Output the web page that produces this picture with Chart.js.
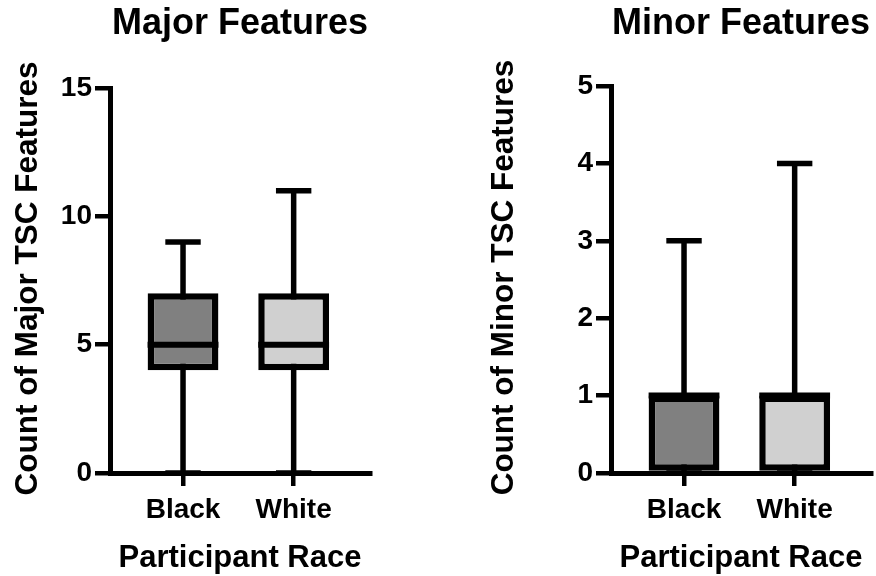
<!DOCTYPE html>
<html>
<head>
<meta charset="utf-8">
<script src="https://cdn.jsdelivr.net/npm/chart.js@4.4.1/dist/chart.umd.min.js"></script>
<style>
  html, body { margin: 0; padding: 0; background: #fff; }
  #wrap { position: relative; width: 876px; height: 576px; }
  canvas { position: absolute; top: 0; }
  #major { left: 0; }
  #minor { left: 438px; }
</style>
</head>
<body>
<div id="wrap">
  <canvas id="major" width="438" height="576"></canvas>
  <canvas id="minor" width="438" height="576"></canvas>
</div>
<script>
const races = ['Black', 'White'];
const boxColors = ['#808080', '#d0d0d0'];

// major features box plot
const majorMin = [0, 0];
const majorQ1 = [4, 4];
const majorMedian = [5, 5];
const majorQ3 = [7, 7];
const majorMax = [9, 11];
const majorTicks = [0, 5, 10, 15];

// minor features box plot
const minorMin = [0, 0];
const minorQ1 = [0, 0];
const minorMedian = [1, 1];
const minorQ3 = [1, 1];
const minorMax = [3, 4];
const minorTicks = [0, 1, 2, 3, 4, 5];

const FONT = '"Liberation Sans", Arial, Helvetica, sans-serif';

// whiskers under the boxes, medians on top
const boxParts = {
  id: 'boxParts',
  beforeDatasetsDraw(chart) {
    const ds = chart.data.datasets[0];
    const meta = chart.getDatasetMeta(0);
    const y = chart.scales.y;
    const ctx = chart.ctx;
    ctx.save();
    ctx.strokeStyle = '#000';
    ctx.lineWidth = 5.5;
    meta.data.forEach((bar, i) => {
      const p = bar.getProps(['x', 'width'], true);
      const cap = p.width / 4;
      const yLo = y.getPixelForValue(ds.lo[i]);
      const yHi = y.getPixelForValue(ds.hi[i]);
      ctx.beginPath();
      ctx.moveTo(p.x, yLo);
      ctx.lineTo(p.x, yHi);
      ctx.moveTo(p.x - cap, yHi);
      ctx.lineTo(p.x + cap, yHi);
      ctx.moveTo(p.x - cap, yLo);
      ctx.lineTo(p.x + cap, yLo);
      ctx.stroke();
    });
    ctx.restore();
  },
  afterDatasetsDraw(chart) {
    const ds = chart.data.datasets[0];
    const meta = chart.getDatasetMeta(0);
    const y = chart.scales.y;
    const ctx = chart.ctx;
    ctx.save();
    ctx.strokeStyle = '#000';
    ctx.lineWidth = 6;
    meta.data.forEach((bar, i) => {
      const p = bar.getProps(['x', 'width'], true);
      const ym = y.getPixelForValue(ds.median[i]);
      ctx.beginPath();
      ctx.moveTo(p.x - p.width / 2, ym);
      ctx.lineTo(p.x + p.width / 2, ym);
      ctx.stroke();
    });
    ctx.restore();
  }
};

// y axis title, allowed to run longer than the plot height
const sideTitle = {
  id: 'sideTitle',
  afterDraw(chart, args, opts) {
    const { ctx, chartArea } = chart;
    ctx.save();
    ctx.translate(opts.x, (chartArea.top + chartArea.bottom) / 2 - 2);
    ctx.rotate(-Math.PI / 2);
    ctx.font = 'bold 31.5px ' + FONT;
    ctx.fillStyle = '#000';
    ctx.textAlign = 'center';
    ctx.textBaseline = 'middle';
    ctx.fillText(opts.text, 0, 0);
    ctx.restore();
  }
};

function makeBox(id, c) {
  return new Chart(document.getElementById(id), {
    type: 'bar',
    data: {
      datasets: [{
        data: races.map((r, i) => ({ x: i + 1, y: [c.q1[i], c.q3[i]] })),
        lo: c.lo,
        hi: c.hi,
        median: c.median,
        backgroundColor: boxColors,
        borderColor: '#000',
        borderWidth: 6.5,
        borderSkipped: false,
        barPercentage: 0.8,
        categoryPercentage: 0.8
      }]
    },
    options: {
      responsive: false,
      animation: false,
      events: [],
      layout: { padding: { left: 0, right: c.padRight, top: 0, bottom: 0 } },
      plugins: {
        legend: { display: false },
        tooltip: { enabled: false },
        title: {
          display: true,
          text: c.title,
          fullSize: false,
          color: '#000',
          font: { family: FONT, size: 36, weight: 'bold' },
          padding: { top: 2, bottom: c.titleGap }
        },
        sideTitle: { text: c.yTitle, x: c.yTitleX }
      },
      scales: {
        x: {
          type: 'linear',
          min: 0.34,
          max: 2.69,
          offset: false,
          afterBuildTicks: s => { s.ticks = races.map((r, i) => ({ value: i + 1 })); },
          afterFit: s => { s.height = 103; },
          ticks: {
            callback: (v, i) => races[i],
            color: '#000',
            padding: 7,
            font: { family: FONT, size: 28, weight: 'bold' }
          },
          grid: { offset: false, drawOnChartArea: false, tickLength: 13, lineWidth: 4.5, color: '#000' },
          border: { color: '#000', width: 5 },
          title: {
            display: true,
            text: 'Participant Race',
            color: '#000',
            font: { family: FONT, size: 31, weight: 'bold', lineHeight: 1 },
            padding: { top: 0, bottom: 2 }
          }
        },
        y: {
          min: c.ticks[0],
          max: c.ticks[c.ticks.length - 1],
          afterBuildTicks: s => { s.ticks = c.ticks.map(v => ({ value: v })); },
          afterFit: s => { s.width = c.yWidth; },
          ticks: {
            color: '#000',
            padding: 3,
            font: { family: FONT, size: 28, weight: 'bold' }
          },
          grid: { drawOnChartArea: false, tickLength: 15, lineWidth: 4.5, color: '#000' },
          border: { color: '#000', width: 5 }
        }
      }
    },
    plugins: [boxParts, sideTitle]
  });
}

makeBox('major', {
  title: 'Major Features',
  yTitle: 'Count of Major TSC Features',
  q1: majorQ1, q3: majorQ3, median: majorMedian, lo: majorMin, hi: majorMax,
  ticks: majorTicks,
  yWidth: 110, yTitleX: 28, padRight: 68, titleGap: 42.8
});

makeBox('minor', {
  title: 'Minor Features',
  yTitle: 'Count of Minor TSC Features',
  q1: minorQ1, q3: minorQ3, median: minorMedian, lo: minorMin, hi: minorMax,
  ticks: minorTicks,
  yWidth: 173, yTitleX: 66, padRight: 5, titleGap: 40.8
});
</script>
</body>
</html>
